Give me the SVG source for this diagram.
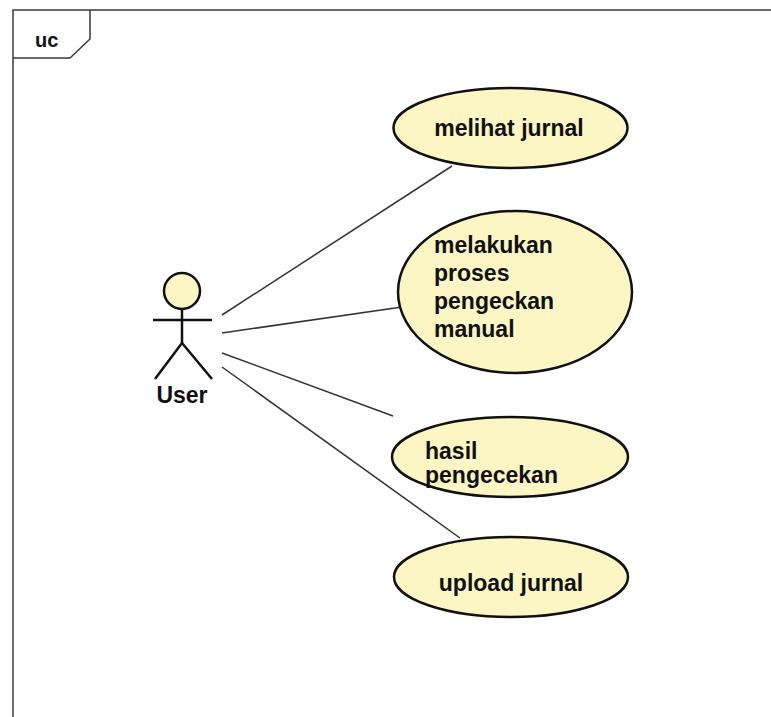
<svg xmlns="http://www.w3.org/2000/svg" width="771" height="717" viewBox="0 0 771 717">
  <style>
    .frame { fill: none; stroke: #3a3a3a; stroke-width: 1.5; }
    .usecase { fill: #fcf6c4; stroke: #111; stroke-width: 2.5; }
    .actor { fill: none; stroke: #111; stroke-width: 2.5; }
    .head { fill: #fcf6c4; stroke: #111; stroke-width: 2.5; }
    .link { stroke: #333; stroke-width: 1.5; fill: none; }
    .lbl { font-family: "Liberation Sans", Arial, sans-serif; font-size: 23px; font-weight: bold; fill: #111; }
    .tab { font-family: "Liberation Sans", Arial, sans-serif; font-size: 20px; font-weight: bold; fill: #111; }
  </style>
  <rect width="771" height="717" fill="#fff"/>

  <g id="frame">
    <path class="frame" d="M13,717 V10 H771"/>
    <path class="frame" d="M13,58 H70 L90,39 V10"/>
    <text class="tab" x="35" y="47">uc</text>
  </g>

  <g id="connectors">
    <line class="link" x1="222" y1="315" x2="452" y2="166"/>
    <line class="link" x1="222" y1="333" x2="402" y2="307"/>
    <line class="link" x1="222" y1="353" x2="393" y2="416"/>
    <line class="link" x1="222" y1="367" x2="460" y2="538"/>
  </g>

  <g id="actor-user">
    <circle class="head" cx="182" cy="291" r="18"/>
    <line class="actor" x1="182" y1="309" x2="182" y2="343"/>
    <line class="actor" x1="153" y1="320" x2="212" y2="320"/>
    <polyline class="actor" points="155,379 182,343 212,379"/>
    <text class="lbl" x="182" y="403" text-anchor="middle">User</text>
  </g>

  <g id="uc-melihat-jurnal">
    <ellipse class="usecase" cx="510.5" cy="128" rx="117" ry="40"/>
    <text class="lbl" x="509" y="136" text-anchor="middle">melihat jurnal</text>
  </g>

  <g id="uc-pengecekan-manual">
    <ellipse class="usecase" cx="515" cy="292" rx="117" ry="81"/>
    <text class="lbl" x="434" y="253">melakukan</text>
    <text class="lbl" x="434" y="281">proses</text>
    <text class="lbl" x="434" y="309">pengeckan</text>
    <text class="lbl" x="434" y="337">manual</text>
  </g>

  <g id="uc-hasil-pengecekan">
    <ellipse class="usecase" cx="510" cy="457" rx="118" ry="40"/>
    <text class="lbl" x="425" y="459">hasil</text>
    <text class="lbl" x="425" y="483">pengecekan</text>
  </g>

  <g id="uc-upload-jurnal">
    <ellipse class="usecase" cx="511" cy="577" rx="117" ry="40"/>
    <text class="lbl" x="511" y="591" text-anchor="middle">upload jurnal</text>
  </g>
</svg>
